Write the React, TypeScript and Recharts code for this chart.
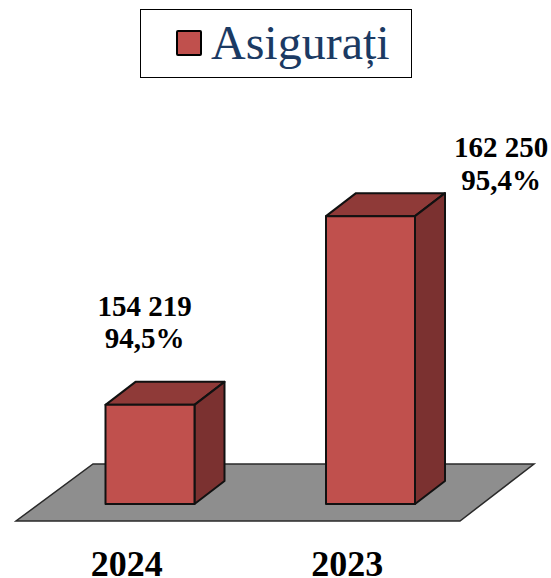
import { BarChart, Bar, XAxis, YAxis, Legend, LabelList, Customized, usePlotArea } from 'recharts';

const years = ['2024', '2023'];
const insured = [154219, 162250];
const shares = ['94,5%', '95,4%'];
const seriesName = 'Asigurați';

const chartData = years.map((year, i) => ({ year, insured: insured[i], share: shares[i] }));

const SERIF = '"Liberation Serif", serif';
const DEPTH_X = 30;
const DEPTH_Y = 23;
const TICK_SHIFT = -23;
// the data labels sit off the bars by hand in the original
const LABEL_SHIFT = [
  { dx: -5.5, dy: -57, gap: 32 },
  { dx: 130.5, dy: -26, gap: 33 },
];

function Floor() {
  const plot = usePlotArea();
  if (!plot) return null;
  const bottom = plot.y + plot.height;
  const points = [
    [16, bottom + 17],
    [460, bottom + 17],
    [534, bottom - 40],
    [93, bottom - 40],
  ];
  return <polygon points={points.map((p) => p.join(',')).join(' ')} fill="#8E8E8E" stroke="#2a2a2a" strokeWidth={1.5} />;
}

function Box3D(props: any) {
  const { x, y, width, height } = props;
  const r = x + width;
  const b = y + height;
  return (
    <g stroke="#111" strokeWidth={2} strokeLinejoin="round">
      <polygon
        points={`${x},${y} ${x + DEPTH_X},${y - DEPTH_Y} ${r + DEPTH_X},${y - DEPTH_Y} ${r},${y}`}
        fill="#8F3A38"
      />
      <polygon
        points={`${r},${y} ${r + DEPTH_X},${y - DEPTH_Y} ${r + DEPTH_X},${b - DEPTH_Y} ${r},${b}`}
        fill="#7B3130"
      />
      <rect x={x} y={y} width={width} height={height} fill="#C0504D" />
    </g>
  );
}

function ValueLabel(props: any) {
  const { x, y, width, index } = props;
  const shift = LABEL_SHIFT[index];
  const cx = x + width / 2 + shift.dx;
  const top = y + shift.dy;
  const text = String(insured[index]).replace(/(\d{3})$/, ' $1');
  return (
    <text textAnchor="middle" fontFamily={SERIF} fontSize={29} fontWeight="bold" fill="#000">
      <tspan x={cx} y={top - shift.gap}>{text}</tspan>
      <tspan x={cx} y={top}>{shares[index]}</tspan>
    </text>
  );
}

function YearTick(props: any) {
  const { x, payload } = props;
  return (
    <text x={x + TICK_SHIFT} y={576} textAnchor="middle" fontFamily={SERIF} fontSize={36} fontWeight="bold" fill="#000">
      {payload.value}
    </text>
  );
}

function LegendBox() {
  return (
    <div
      style={{
        boxSizing: 'border-box',
        width: 272,
        height: 69,
        border: '1px solid #000',
        background: '#fff',
        position: 'relative',
      }}
    >
      <div
        style={{
          position: 'absolute',
          left: 35,
          top: 20,
          width: 26,
          height: 26,
          boxSizing: 'border-box',
          border: '2.5px solid #000',
          borderRadius: 2,
          background: '#C0504D',
        }}
      />
      <div
        style={{
          position: 'absolute',
          left: 70,
          top: 4,
          fontFamily: SERIF,
          fontSize: 48,
          lineHeight: '58px',
          color: '#1B3A63',
          whiteSpace: 'nowrap',
        }}
      >
        {seriesName}
      </div>
    </div>
  );
}

export default function App() {
  return (
    <div style={{ position: 'absolute', left: 0, top: 0, width: 551, height: 578, background: '#fff' }}>
      <BarChart
        width={551}
        height={578}
        data={chartData}
        barSize={89}
        margin={{ top: 106, right: 70.5, bottom: 0, left: 39.5 }}
      >
        <Customized component={Floor} />
        <XAxis
          dataKey="year"
          height={74}
          axisLine={false}
          tickLine={false}
          interval={0}
          tick={<YearTick />}
        />
        <YAxis hide domain={[150000, 164000]} />
        <Legend
          verticalAlign="top"
          height={0}
          content={<LegendBox />}
          wrapperStyle={{ left: 140, top: 9, width: 272, height: 69 }}
        />
        <Bar dataKey="insured" name={seriesName} shape={<Box3D />} isAnimationActive={false}>
          <LabelList dataKey="insured" content={<ValueLabel />} />
        </Bar>
      </BarChart>
    </div>
  );
}
